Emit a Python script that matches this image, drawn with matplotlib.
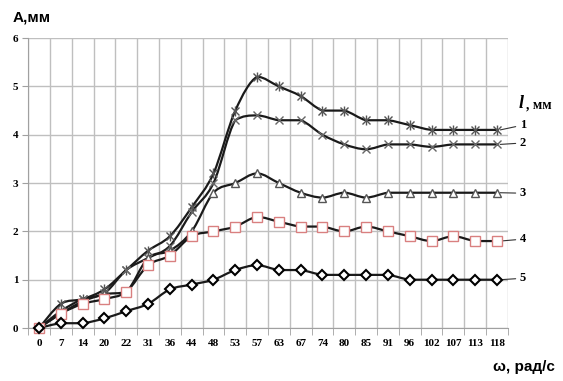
import numpy as np
import matplotlib
matplotlib.use("Agg")
import matplotlib.pyplot as plt
from matplotlib.path import Path
from matplotlib.patches import PathPatch

omega = ["0", "7", "14", "20", "22", "31", "36", "44", "48", "53", "57",
         "63", "67", "74", "80", "85", "91", "96", "102", "107", "113", "118"]

a1 = [0, 0.5, 0.6, 0.8, 1.2, 1.6, 1.9, 2.5, 3.2, 4.5, 5.2,
      5.0, 4.8, 4.5, 4.5, 4.3, 4.3, 4.2, 4.1, 4.1, 4.1, 4.1]
a2 = [0, 0.35, 0.6, 0.72, 1.2, 1.45, 1.7, 2.4, 3.0, 4.3, 4.4,
      4.3, 4.3, 4.0, 3.8, 3.7, 3.8, 3.8, 3.75, 3.8, 3.8, 3.8]
a3 = [0, 0.3, 0.55, 0.7, 0.75, 1.45, 1.6, 2.0, 2.8, 3.0, 3.2,
      3.0, 2.8, 2.7, 2.8, 2.7, 2.8, 2.8, 2.8, 2.8, 2.8, 2.8]
a4 = [0, 0.3, 0.5, 0.6, 0.75, 1.3, 1.5, 1.9, 2.0, 2.1, 2.3,
      2.2, 2.1, 2.1, 2.0, 2.1, 2.0, 1.9, 1.8, 1.9, 1.8, 1.8]
a5 = [0, 0.1, 0.1, 0.2, 0.35, 0.5, 0.8, 0.9, 1.0, 1.2, 1.3,
      1.2, 1.2, 1.1, 1.1, 1.1, 1.1, 1.0, 1.0, 1.0, 1.0, 1.0]

curve_labels = ["1", "2", "3", "4", "5"]
label_y = [4.2, 3.83, 2.79, 1.84, 1.03]

plt.rcParams['font.family'] = ['Liberation Serif', 'DejaVu Serif']


def smooth_path(x, y):
    """ Excel-like smoothed line as a bezier path through the points """
    p = np.column_stack([x, y]).astype(float)
    n = len(p)
    verts = [p[0]]
    codes = [Path.MOVETO]
    for i in range(n - 1):
        prev = p[i - 1] if i > 0 else p[i]
        nxt = p[i + 2] if i + 2 < n else p[i + 1]
        c1 = p[i] + (p[i + 1] - prev) / 6
        c2 = p[i + 1] - (nxt - p[i]) / 6
        lo, hi = sorted([p[i][1], p[i + 1][1]])
        c1[1] = min(max(c1[1], lo), hi)
        c2[1] = min(max(c2[1], lo), hi)
        verts += [c1, c2, p[i + 1]]
        codes += [Path.CURVE4] * 3
    return Path(verts, codes)


fig = plt.figure(figsize=(5.63, 3.81), dpi=100)
ax = fig.add_axes([0.050, 0.139, 0.852, 0.761])

x = np.arange(len(omega))
series = [a1, a2, a3, a4, a5]
for vals in series:
    ax.add_patch(PathPatch(smooth_path(x, vals), fill=False, edgecolor='#1a1a1a',
                           lw=1.6, zorder=3, clip_on=False))

ax.plot(x, a1, ls='none', marker='x', ms=6, mec='#555555', mew=1.0, zorder=4, clip_on=False)
ax.plot(x, a1, ls='none', marker='|', ms=7, mec='#555555', mew=1.0, zorder=4, clip_on=False)
ax.plot(x, a2, ls='none', marker='x', ms=6, mec='#666666', mew=1.0, zorder=4, clip_on=False)
ax.plot(x, a3, ls='none', marker='^', ms=6, mfc='white', mec='#555555', mew=1.0, zorder=4, clip_on=False)
ax.plot(x, a4, ls='none', marker='s', ms=6.5, mfc='white', mec='#d98080', mew=1.0, zorder=4, clip_on=False)
ax.plot(x, a5, ls='none', marker='D', ms=5.5, mfc='white', mec='black', mew=1.5, zorder=5, clip_on=False)

for vals, lab, ly in zip(series, curve_labels, label_y):
    ax.annotate(lab, xy=(x[-1] + 0.15, vals[-1]), xytext=(22.05, ly),
                fontsize=9, fontweight='bold', va='center', ha='left',
                annotation_clip=False,
                arrowprops=dict(arrowstyle='-', color='#333333', lw=0.8,
                                shrinkA=1, shrinkB=0))

ax.set_xlim(-0.5, len(omega) - 0.5)
ax.set_ylim(0, 6)
ax.set_xticks(x)
ax.set_xticklabels(omega, fontsize=8, fontweight='bold')
ax.set_xticks(np.arange(-0.5, len(omega), 1), minor=True)
ax.tick_params(axis='x', which='major', length=0, pad=8)
ax.tick_params(axis='x', which='minor', length=5, color='#a0a0a0')
ax.set_yticks(range(7))
ax.set_yticklabels([str(v) for v in range(7)], fontsize=8, fontweight='bold')
ax.tick_params(axis='y', length=4, color='#a0a0a0', pad=3)
ax.grid(True, which='minor', axis='x', color='#bfbfbf', lw=1.0)
ax.grid(True, which='major', axis='y', color='#bfbfbf', lw=1.0)
ax.set_axisbelow(True)
for side in ['top', 'right']:
    ax.spines[side].set_visible(False)
for side in ['left', 'bottom']:
    ax.spines[side].set_color('#a0a0a0')

fig.text(13 / 563, 1 - 17 / 381, "A,мм", family=['Liberation Sans', 'DejaVu Sans'],
         fontsize=11, fontweight='bold', va='center', ha='left')
fig.text(555 / 563, 1 - 367 / 381, "ω, рад/с", family=['Liberation Sans', 'DejaVu Sans'],
         fontsize=11, fontweight='bold', va='center', ha='right')
fig.text(519 / 563, 1 - 104 / 381, "l", fontsize=13, fontweight='bold',
         style='italic', va='center', ha='left')
fig.text(526 / 563, 1 - 105 / 381, ", мм", fontsize=10, fontweight='bold',
         va='center', ha='left')

fig.savefig("out.png", dpi=100, facecolor='white')
